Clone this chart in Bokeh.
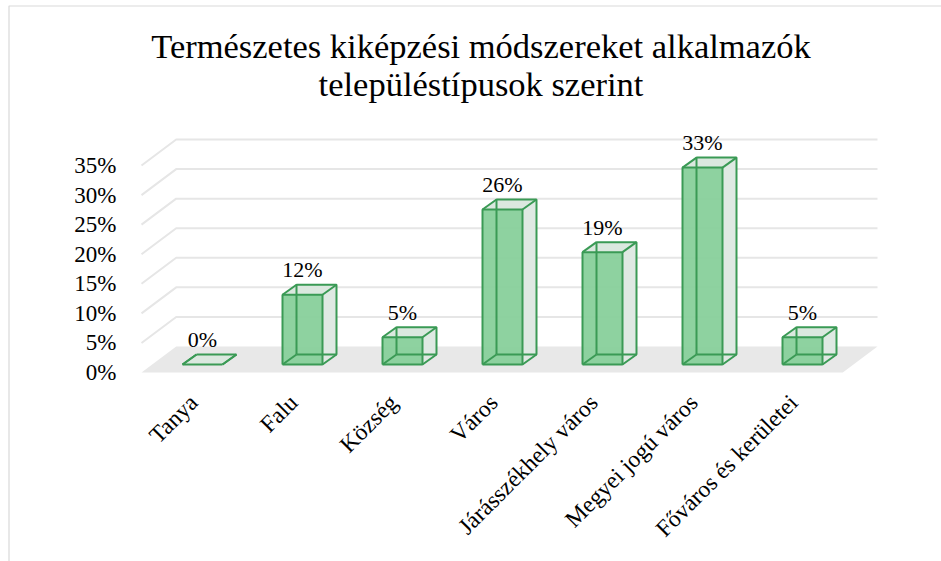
from bokeh.plotting import figure
from bokeh.models import Range1d
from bokeh.embed import file_html
from bokeh.resources import INLINE
from bokeh.core.properties import value
from math import pi

# ---------------- data ----------------
categories = ["Tanya", "Falu", "Község", "Város", "Járásszékhely város",
              "Megyei jogú város", "Főváros és kerületei"]
shares = [0.0, 11.8, 4.6, 26.2, 19.0, 33.3, 4.6]          # percent
y_ticks = [0, 5, 10, 15, 20, 25, 30, 35]
y_tick_labels = [f"{t}%" for t in y_ticks]
title_lines = ["Természetes kiképzési módszereket alkalmazók",
               "településtípusok szerint"]

# ---------------- layout / style constants ----------------
W, H = 941, 561
PX_X = 100.0      # pixels per category step
PX_Y = 5.914      # pixels per percent
X0_PX, Y0_PX = 202, 364   # pixel position of category 0 / value 0 (bar plane)

def dx(px):
    return px / PX_X

def dy(px):
    return px / PX_Y

FONT = value("Liberation Serif")
GREEN_EDGE = "#3a9a55"
GREEN_FILL = "#88d09b"
SIDE_FILL = "#dfe9e3"
TOP_FILL = "#dbe8df"
GRID = "#e6e6e6"
FLOOR = "#e8e8e8"

p = figure(width=W, height=H, output_backend="svg", toolbar_location=None,
           x_range=Range1d(-X0_PX / PX_X, (W - X0_PX) / PX_X),
           y_range=Range1d(-(H - Y0_PX) / PX_Y, Y0_PX / PX_Y),
           min_border=0, min_border_left=0, min_border_right=0,
           min_border_top=0, min_border_bottom=0)
p.axis.visible = False
p.grid.visible = False
p.outline_line_color = None
p.background_fill_color = "white"
p.border_fill_color = "white"

# chart border (light grey, extends past window)
p.line(x=[dx(8.5 - X0_PX), dx(8.5 - X0_PX), 9], y=[-40, dy(Y0_PX - 5.5), dy(Y0_PX - 5.5)],
       line_color="#d9d9d9", line_width=1.2)

# perspective offsets (relative to bar plane)
FR_DX, FR_DY = dx(-10.7), dy(-8)      # front plane
BK_DX, BK_DY = dx(24.0), dy(18)       # back plane
n = len(categories)
left_x = dx(141 - X0_PX) - FR_DX
right_x = dx(877 - X0_PX) - BK_DX

# floor
p.patch(x=[left_x + FR_DX, right_x + FR_DX, right_x + BK_DX, left_x + BK_DX],
        y=[FR_DY, FR_DY, BK_DY, BK_DY], fill_color=FLOOR, line_color=None)

# gridlines: slanted side wall + back wall
gx, gy = [], []
for t in y_ticks[1:]:
    gx.append([left_x + FR_DX, left_x + BK_DX, right_x + BK_DX])
    gy.append([t + FR_DY, t + BK_DY, t + BK_DY])
p.multi_line(xs=gx, ys=gy, line_color=GRID, line_width=2)

# y tick labels on the front plane
p.text(x=[dx(116 - X0_PX)] * len(y_ticks), y=[t + FR_DY for t in y_ticks],
       text=y_tick_labels, text_font=FONT, text_font_size="23px",
       text_align="right", text_baseline="middle", text_color="#000000")

# 3D bars
HW = 0.2
DDX, DDY = dx(14), dy(10)
front_x, front_y, side_x, side_y, top_x, top_y = [], [], [], [], [], []
ex, ey = [], []
for i, v in enumerate(shares):
    xl, xr = i - HW, i + HW
    front_x.append([xl, xr, xr, xl]); front_y.append([0, 0, v, v])
    side_x.append([xr, xr + DDX, xr + DDX, xr]); side_y.append([0, DDY, v + DDY, v])
    top_x.append([xl, xl + DDX, xr + DDX, xr]); top_y.append([v, v + DDY, v + DDY, v])
    # back face outline
    ex.append([xl + DDX, xr + DDX, xr + DDX, xl + DDX, xl + DDX])
    ey.append([DDY, DDY, v + DDY, v + DDY, DDY])
    # depth edges
    for (a, b) in [(xl, 0), (xr, 0), (xl, v), (xr, v)]:
        ex.append([a, a + DDX]); ey.append([b, b + DDY])
    # front face outline
    ex.append([xl, xr, xr, xl, xl]); ey.append([0, 0, v, v, 0])

p.patches(xs=side_x, ys=side_y, fill_color=SIDE_FILL, line_color=None)
p.patches(xs=top_x, ys=top_y, fill_color=TOP_FILL, line_color=None)
p.patches(xs=front_x, ys=front_y, fill_color=GREEN_FILL, fill_alpha=0.95, line_color=None)
p.multi_line(xs=ex, ys=ey, line_color=GREEN_EDGE, line_width=2)

# data labels
p.text(x=list(range(n)), y=[v + dy(25) for v in shares],
       text=[f"{round(v)}%" for v in shares], text_font=FONT, text_font_size="22px",
       text_align="center", text_baseline="middle", text_color="#000000")

# category labels (rotated)
p.text(x=[i - dx(9) for i in range(n)], y=[dy(Y0_PX - 398)] * n,
       text=categories, text_font=FONT, text_font_size="23.5px", angle=pi / 4,
       text_align="right", text_baseline="middle", text_color="#000000")

# title
p.text(x=[dx(480.5 - X0_PX)] * 2, y=[dy(Y0_PX - 45), dy(Y0_PX - 83)],
       text=title_lines, text_font=FONT, text_font_size="34.5px",
       text_align="center", text_baseline="middle", text_color="#000000")

open("out.html", "w").write(file_html(p, INLINE))
